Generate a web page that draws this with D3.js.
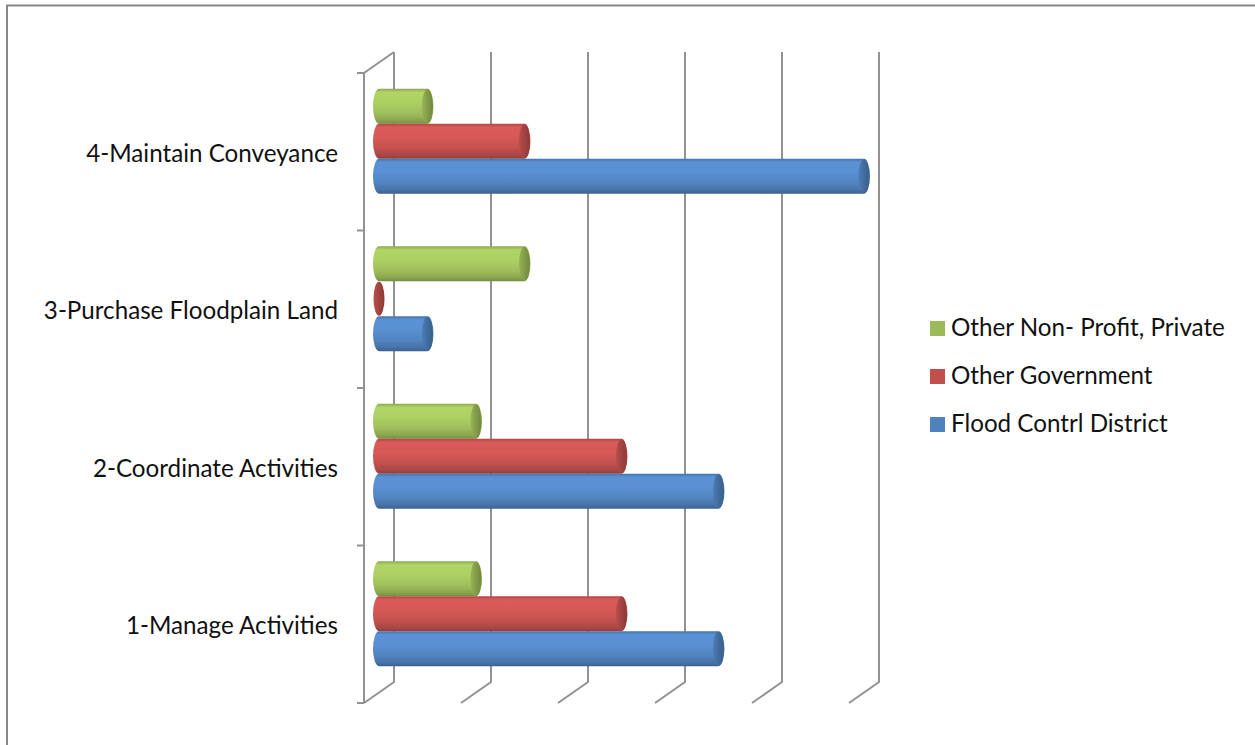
<!DOCTYPE html>
<html><head><meta charset="utf-8">
<script src="https://cdn.jsdelivr.net/npm/d3@7"></script>
<style>body{margin:0;background:#fff}svg{display:block}text{font-family:Lato,"Open Sans",sans-serif;fill:#111}</style>
</head><body><svg id="c" width="1255" height="745"></svg>
<script>
const categories = ["1-Manage Activities","2-Coordinate Activities","3-Purchase Floodplain Land","4-Maintain Conveyance"];
const seriesNames = ["Flood Contrl District","Other Government","Other Non- Profit, Private"];
const floodControl = [3.5, 3.5, 0.5, 5.0];
const otherGov = [2.5, 2.5, 0.0, 1.5];
const nonProfit = [1.0, 1.0, 1.5, 0.5];
const seriesColors = ["#4F81BD","#C0504D","#9BBB59"];
const xTicks = [0,1,2,3,4,5];

(function(){
const svg = d3.select("#c");
svg.append("rect").attr("x",7).attr("y",5.5).attr("width",1262).attr("height",760)
  .attr("fill","#fff").attr("stroke","#878787").attr("stroke-width",2);

const pLeft=364, pTop=73, pBottom=703, dx=30, dy=-21;
const x = d3.scaleLinear().domain([0,5]).range([pLeft, pLeft+485]);
const yCat = d3.scaleBand().domain(categories.slice().reverse()).range([pTop,pBottom]).paddingInner(1/3).paddingOuter(1/6);
const order = [2,1,0];
const ySub = d3.scaleBand().domain(order).range([0,yCat.bandwidth()]);
const gridC="#929292";

const g = svg.append("g");
xTicks.forEach(v=>{
  const bx=x(v)+dx;
  g.append("path").attr("d",`M${bx},${pTop+dy}V${pBottom+dy}L${x(v)},${pBottom}`)
   .attr("fill","none").attr("stroke",gridC).attr("stroke-width",2);
});
g.append("path").attr("d",`M${pLeft},${pBottom}V${pTop}L${pLeft+dx},${pTop+dy}`).attr("fill","none").attr("stroke",gridC).attr("stroke-width",2);
const bounds = d3.range(categories.length+1).map(i=>pTop + i*(pBottom-pTop)/categories.length);
bounds.forEach(b=>g.append("line").attr("x1",pLeft-7).attr("x2",pLeft).attr("y1",b).attr("y2",b).attr("stroke",gridC).attr("stroke-width",2));

const ax = svg.append("g").attr("transform",`translate(${pLeft},0)`)
  .call(d3.axisLeft(yCat).tickSize(0).tickPadding(26));
ax.select(".domain").remove();
ax.selectAll("text").attr("font-size",24.2).attr("dy","0.42em").attr("fill","#111").style("font-family","Lato,'Open Sans',sans-serif");

const defs = svg.append("defs");
seriesColors.forEach((c,i)=>{
  const base=d3.color(c);
  const lg=defs.append("linearGradient").attr("id","b"+i).attr("x1",0).attr("y1",0).attr("x2",0).attr("y2",1);
  [[0,base.darker(0.3)],[0.1,base.brighter(0.35)],[0.4,base.brighter(0.3)],[0.7,base.brighter(0.05)],[0.9,base.darker(0.35)],[1,base.darker(0.8)]]
   .forEach(([o,col])=>lg.append("stop").attr("offset",o).attr("stop-color",col.formatHex()));
  const cg=defs.append("linearGradient").attr("id","e"+i).attr("x1",0).attr("y1",0).attr("x2",1).attr("y2",0);
  [[0,base.darker(0.1)],[0.5,base.darker(0.5)],[1,base.darker(0.9)]]
   .forEach(([o,col])=>cg.append("stop").attr("offset",o).attr("stop-color",col.formatHex()));
});

const seriesVals=[floodControl,otherGov,nonProfit];
const rx=6;
const bars=svg.append("g");
categories.slice().reverse().forEach(cat=>{
  const ci=categories.indexOf(cat);
  order.forEach(si=>{
    const v=seriesVals[si][ci];
    const y0=yCat(cat)+ySub(si)+dy/2, h=ySub.bandwidth(), ry=h/2;
    const x0=x(0)+dx/2, x1=x(v)+dx/2;
    if(x1-x0>0.5){
      bars.append("path").attr("d",`M${x0},${y0}L${x1},${y0}A${rx},${ry} 0 0 1 ${x1},${y0+h}L${x0},${y0+h}A${rx},${ry} 0 0 1 ${x0},${y0}Z`)
        .attr("fill",`url(#b${si})`);
    }
    bars.append("ellipse").attr("cx",x1).attr("cy",y0+ry).attr("rx",rx-0.5).attr("ry",ry-0.5)
      .attr("fill",`url(#e${si})`);
  });
});

const leg=svg.append("g");
order.forEach((si,k)=>{
  const cy=328.5+k*48;
  leg.append("rect").attr("x",930).attr("y",cy-7.5).attr("width",15).attr("height",15).attr("fill",seriesColors[si]);
  leg.append("text").attr("x",951).attr("y",cy+7.5).attr("font-size",24.2).text(seriesNames[si]);
});
})();
</script></body></html>
